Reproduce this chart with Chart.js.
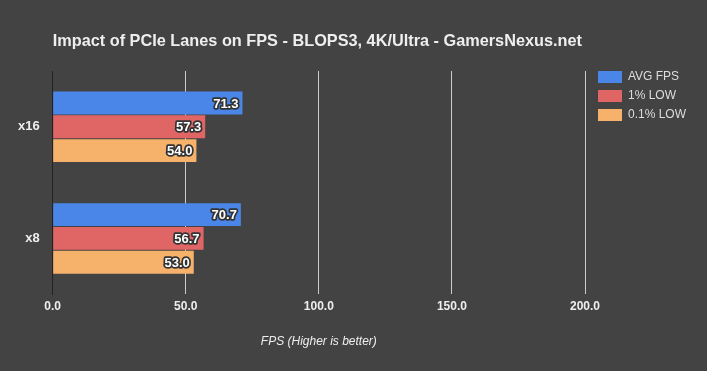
<!DOCTYPE html>
<html>
<head>
<meta charset="utf-8">
<script src="https://cdn.jsdelivr.net/npm/chart.js@4/dist/chart.umd.min.js"></script>
<style>
  html, body { margin: 0; padding: 0; background: #434343; }
  #wrap { width: 707px; height: 371px; }
</style>
</head>
<body>
<div id="wrap"><canvas id="chart"></canvas></div>
<script>
// chart data
const lanes = ["x16", "x8"];
const avgFps = [71.3, 70.7];
const low1 = [57.3, 56.7];
const low01 = [54.0, 53.0];
const seriesNames = ["AVG FPS", "1% LOW", "0.1% LOW"];
const seriesColors = ["#4a86e8", "#e06666", "#f6b26b"];

const FONT = "Arial, 'Liberation Sans', sans-serif";

// title, legend and value labels drawn on top of the chart
const extras = {
  id: "extras",
  afterDatasetsDraw(chart) {
    const ctx = chart.ctx;
    ctx.save();
    // value labels at bar ends
    ctx.font = "bold 13px " + FONT;
    ctx.textAlign = "right";
    ctx.textBaseline = "middle";
    ctx.lineJoin = "round";
    chart.data.datasets.forEach((ds, i) => {
      chart.getDatasetMeta(i).data.forEach((bar, j) => {
        const txt = ds.data[j].toFixed(1);
        ctx.lineWidth = 3.5;
        ctx.strokeStyle = "#333333";
        ctx.strokeText(txt, bar.x - 4, bar.y + 1);
        ctx.fillStyle = "#ffffff";
        ctx.fillText(txt, bar.x - 4, bar.y + 1);
      });
    });
    ctx.restore();
  },
  afterDraw(chart) {
    const ctx = chart.ctx;
    const area = chart.chartArea;
    ctx.save();
    // title
    ctx.font = "bold 16.3px " + FONT;
    ctx.fillStyle = "#eeeeee";
    ctx.textAlign = "left";
    ctx.textBaseline = "middle";
    ctx.fillText("Impact of PCIe Lanes on FPS - BLOPS3, 4K/Ultra - GamersNexus.net", area.left, 42);
    // legend
    ctx.font = "12px " + FONT;
    chart.data.datasets.forEach((ds, i) => {
      const y = 71 + i * 19;
      ctx.fillStyle = ds.backgroundColor;
      ctx.fillRect(598, y, 24, 12);
      ctx.fillStyle = "#dddddd";
      ctx.fillText(ds.label, 628, y + 6);
    });
    ctx.restore();
  }
};

new Chart(document.getElementById("chart"), {
  type: "bar",
  data: {
    labels: lanes,
    datasets: [avgFps, low1, low01].map((d, i) => ({
      label: seriesNames[i],
      data: d,
      backgroundColor: seriesColors[i],
      borderWidth: 0,
      barPercentage: 0.96,
      categoryPercentage: 0.64
    }))
  },
  options: {
    indexAxis: "y",
    responsive: true,
    maintainAspectRatio: false,
    animation: false,
    layout: { padding: { top: 71, right: 122, bottom: 22, left: 5 } },
    plugins: {
      legend: { display: false },
      title: { display: false },
      tooltip: { enabled: false }
    },
    scales: {
      x: {
        min: 0,
        max: 200,
        ticks: {
          stepSize: 50,
          color: "#eeeeee",
          font: { family: FONT, size: 12, weight: "bold" },
          padding: 5,
          callback: v => v.toFixed(1)
        },
        grid: {
          color: c => c.index === 0 ? "#222222" : "#cccccc",
          drawTicks: false
        },
        border: { display: false },
        title: {
          display: true,
          text: "FPS (Higher is better)",
          color: "#eeeeee",
          font: { family: FONT, size: 12, style: "italic" },
          padding: { top: 16, bottom: 0 }
        }
      },
      y: {
        ticks: {
          color: "#eeeeee",
          font: { family: FONT, size: 13, weight: "bold" },
          padding: 13
        },
        grid: { display: false, drawTicks: false },
        border: { display: true, color: "#222222" }
      }
    }
  },
  plugins: [extras]
});
</script>
</body>
</html>
